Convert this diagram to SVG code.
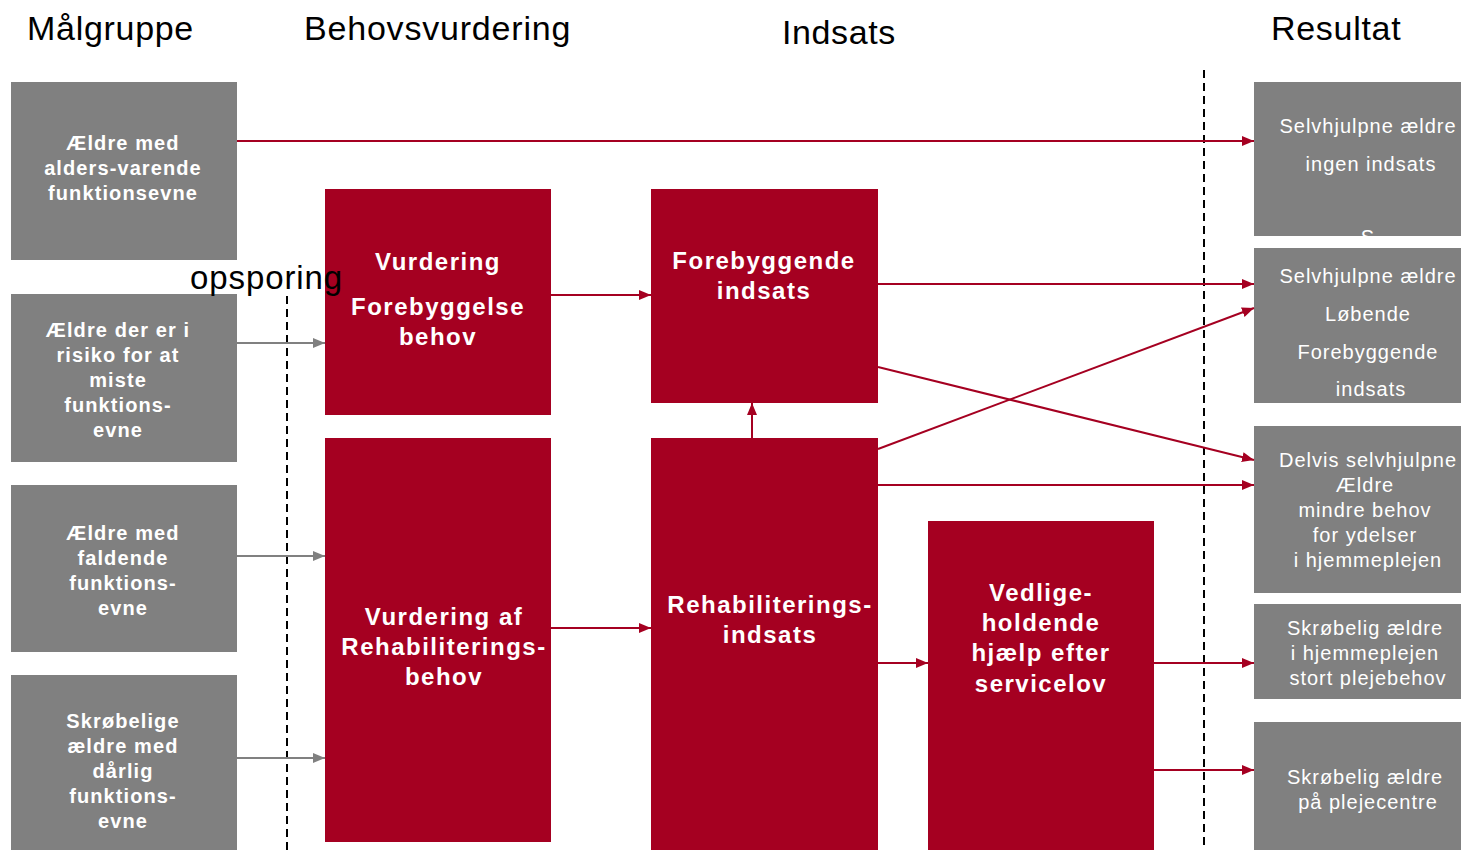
<svg xmlns="http://www.w3.org/2000/svg" width="1461" height="850" viewBox="0 0 1461 850">
<style>
.g{fill:#808080}
.r{fill:#A50021}
.h{font-family:"Liberation Sans",Arial,sans-serif;font-size:34px;fill:#000;letter-spacing:0.7px}
.tb{font-family:"Liberation Sans",Arial,sans-serif;font-size:20px;font-weight:bold;fill:#fff;text-anchor:middle;letter-spacing:1.1px}
.tr{font-family:"Liberation Sans",Arial,sans-serif;font-size:24px;font-weight:bold;fill:#fff;text-anchor:middle;letter-spacing:1.5px}
.tn{font-family:"Liberation Sans",Arial,sans-serif;font-size:20px;fill:#fff;text-anchor:middle;letter-spacing:1px}
.cr{stroke:#A50021;stroke-width:2;fill:none}
.cg{stroke:#808080;stroke-width:2;fill:none}
.d{stroke:#000;stroke-width:2;stroke-dasharray:8,5;fill:none}
</style>
<defs>
<marker id="ar" markerWidth="12" markerHeight="10" refX="12" refY="5" orient="auto" markerUnits="userSpaceOnUse"><path d="M0,0 L12,5 L0,10 z" fill="#A50021"/></marker>
<marker id="ag" markerWidth="12" markerHeight="10" refX="12" refY="5" orient="auto" markerUnits="userSpaceOnUse"><path d="M0,0 L12,5 L0,10 z" fill="#808080"/></marker>
</defs>
<rect width="1461" height="850" fill="#fff"/>
<g id="headers">
<text class="h" x="27" y="40">Målgruppe</text>
<text class="h" x="304" y="40" style="letter-spacing:0.8px">Behovsvurdering</text>
<text class="h" x="782" y="44" style="letter-spacing:0.6px">Indsats</text>
<text class="h" x="1271" y="40">Resultat</text>
</g>
<g id="dividers">
<line class="d" x1="287" y1="296" x2="287" y2="850"/>
<line class="d" x1="1204" y1="70" x2="1204" y2="850"/>
</g>
<g id="n1"><rect class="g" x="11" y="82" width="226" height="178"/>
<text class="tb"><tspan x="123" y="150">Ældre med</tspan><tspan x="123" y="175">alders-varende</tspan><tspan x="123" y="200">funktionsevne</tspan></text></g>
<g id="n2"><rect class="g" x="11" y="294" width="226" height="168"/>
<text class="tb"><tspan x="118" y="337">Ældre der er i</tspan><tspan x="118" y="362">risiko for at</tspan><tspan x="118" y="387">miste</tspan><tspan x="118" y="412">funktions-</tspan><tspan x="118" y="437">evne</tspan></text></g>
<g id="n3"><rect class="g" x="11" y="485" width="226" height="167"/>
<text class="tb"><tspan x="123" y="540">Ældre med</tspan><tspan x="123" y="565">faldende</tspan><tspan x="123" y="590">funktions-</tspan><tspan x="123" y="615">evne</tspan></text></g>
<g id="n4"><rect class="g" x="11" y="675" width="226" height="175"/>
<text class="tb"><tspan x="123" y="728">Skrøbelige</tspan><tspan x="123" y="753">ældre med</tspan><tspan x="123" y="778">dårlig</tspan><tspan x="123" y="803">funktions-</tspan><tspan x="123" y="828">evne</tspan></text></g>
<g id="n5"><rect class="r" x="325" y="189" width="226" height="226"/>
<text class="tr"><tspan x="438" y="270">Vurdering</tspan><tspan x="438" y="315">Forebyggelse</tspan><tspan x="438" y="345">behov</tspan></text></g>
<g id="n6"><rect class="r" x="325" y="438" width="226" height="404"/>
<text class="tr"><tspan x="444" y="625">Vurdering af</tspan><tspan x="444" y="655">Rehabiliterings-</tspan><tspan x="444" y="685">behov</tspan></text></g>
<g id="n7"><rect class="r" x="651" y="189" width="227" height="214"/>
<text class="tr"><tspan x="764" y="269">Forebyggende</tspan><tspan x="764" y="299">indsats</tspan></text></g>
<g id="n8"><rect class="r" x="651" y="438" width="227" height="412"/>
<text class="tr"><tspan x="770" y="613">Rehabiliterings-</tspan><tspan x="770" y="643">indsats</tspan></text></g>
<g id="n9"><rect class="r" x="928" y="521" width="226" height="329"/>
<text class="tr"><tspan x="1041" y="601">Vedlige-</tspan><tspan x="1041" y="631">holdende</tspan><tspan x="1041" y="661">hjælp efter</tspan><tspan x="1041" y="692">servicelov</tspan></text></g>
<g id="n10"><rect class="g" x="1254" y="82" width="207" height="154"/>
<text class="tn"><tspan x="1368" y="133">Selvhjulpne ældre</tspan><tspan x="1371" y="171">ingen indsats</tspan><tspan x="1368" y="244">S</tspan></text></g>
<g id="n11"><rect class="g" x="1254" y="248" width="207" height="155"/>
<text class="tn"><tspan x="1368" y="283">Selvhjulpne ældre</tspan><tspan x="1368" y="321">Løbende</tspan><tspan x="1368" y="359">Forebyggende</tspan><tspan x="1371" y="396">indsats</tspan></text></g>
<g id="n12"><rect class="g" x="1254" y="426" width="207" height="167"/>
<text class="tn"><tspan x="1368" y="467">Delvis selvhjulpne</tspan><tspan x="1365" y="492">Ældre</tspan><tspan x="1365" y="517">mindre behov</tspan><tspan x="1365" y="542">for  ydelser</tspan><tspan x="1368" y="567">i hjemmeplejen</tspan></text></g>
<g id="n13"><rect class="g" x="1254" y="604" width="207" height="95"/>
<text class="tn"><tspan x="1365" y="635">Skrøbelig ældre</tspan><tspan x="1365" y="660">i hjemmeplejen</tspan><tspan x="1368" y="685">stort plejebehov</tspan></text></g>
<g id="n14"><rect class="g" x="1254" y="722" width="207" height="128"/>
<text class="tn"><tspan x="1365" y="784">Skrøbelig ældre</tspan><tspan x="1368" y="809">på plejecentre</tspan></text></g>
<g id="connectors">
<line class="cr" x1="237" y1="141" x2="1254" y2="141" marker-end="url(#ar)"/>
<line class="cg" x1="237" y1="343" x2="325" y2="343" marker-end="url(#ag)"/>
<line class="cg" x1="237" y1="556" x2="325" y2="556" marker-end="url(#ag)"/>
<line class="cg" x1="237" y1="758" x2="325" y2="758" marker-end="url(#ag)"/>
<line class="cr" x1="551" y1="295" x2="651" y2="295" marker-end="url(#ar)"/>
<line class="cr" x1="551" y1="628" x2="651" y2="628" marker-end="url(#ar)"/>
<line class="cr" x1="752" y1="438" x2="752" y2="403" marker-end="url(#ar)"/>
<line class="cr" x1="878" y1="284" x2="1254" y2="284" marker-end="url(#ar)"/>
<line class="cr" x1="878" y1="367" x2="1254" y2="460" marker-end="url(#ar)"/>
<line class="cr" x1="878" y1="449" x2="1254" y2="308" marker-end="url(#ar)"/>
<line class="cr" x1="878" y1="485" x2="1254" y2="485" marker-end="url(#ar)"/>
<line class="cr" x1="878" y1="663" x2="928" y2="663" marker-end="url(#ar)"/>
<line class="cr" x1="1154" y1="663" x2="1254" y2="663" marker-end="url(#ar)"/>
<line class="cr" x1="1154" y1="770" x2="1254" y2="770" marker-end="url(#ar)"/>
</g>
<g id="label-opsporing">
<text class="h" x="190" y="289" style="font-size:33px;letter-spacing:0.9px">opsporing</text>
</g>
</svg>
